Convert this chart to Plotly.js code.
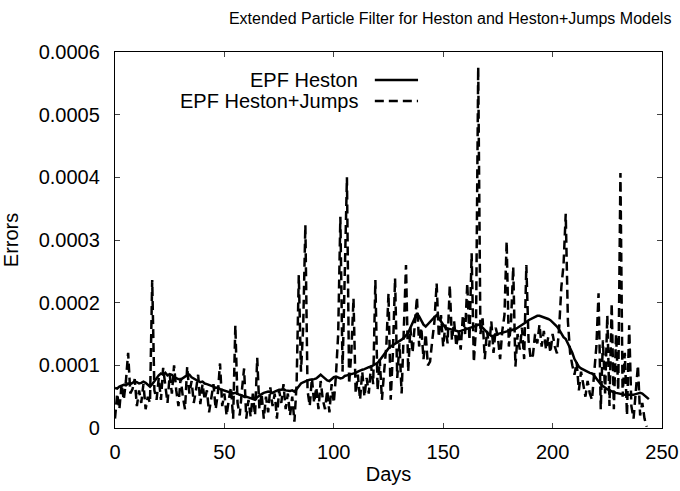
<!DOCTYPE html>
<html>
<head>
<meta charset="utf-8">
<script src="https://cdn.plot.ly/plotly-3.0.1.min.js"></script>
<style>html,body{margin:0;padding:0;background:#fff;}#chart{width:680px;height:491px;}</style>
</head>
<body>
<div id="chart"></div>
<script>
// Values in units of 1e-4
const hestonErr = [
0.64,0.63,0.66,0.67,0.69,0.68,0.71,0.70,0.72,0.74,
0.73,0.71,0.72,0.74,0.72,0.69,0.66,0.70,0.75,0.80,
0.84,0.87,0.85,0.88,0.84,0.86,0.85,0.81,0.79,0.78,
0.77,0.80,0.82,0.84,0.85,0.81,0.79,0.76,0.75,0.73,
0.74,0.71,0.70,0.69,0.67,0.66,0.64,0.65,0.62,0.61,
0.60,0.59,0.58,0.57,0.55,0.56,0.54,0.53,0.52,0.50,
0.50,0.49,0.48,0.46,0.45,0.49,0.52,0.54,0.56,0.57,
0.58,0.57,0.56,0.58,0.60,0.61,0.61,0.62,0.60,0.59,
0.59,0.60,0.58,0.62,0.66,0.71,0.73,0.75,0.76,0.77,
0.77,0.78,0.79,0.82,0.85,0.82,0.79,0.76,0.75,0.78,
0.81,0.82,0.80,0.79,0.80,0.83,0.84,0.85,0.85,0.87,
0.88,0.90,0.92,0.93,0.94,0.96,0.97,0.98,1.00,1.02,
1.04,1.08,1.13,1.18,1.22,1.27,1.30,1.32,1.34,1.36,
1.39,1.41,1.44,1.48,1.52,1.60,1.68,1.77,1.83,1.78,
1.72,1.65,1.62,1.66,1.70,1.74,1.77,1.80,1.75,1.70,
1.64,1.60,1.59,1.58,1.57,1.56,1.55,1.54,1.55,1.56,
1.57,1.58,1.59,1.61,1.62,1.63,1.65,1.64,1.60,1.56,
1.52,1.49,1.47,1.47,1.49,1.50,1.51,1.51,1.52,1.53,
1.54,1.55,1.57,1.58,1.60,1.62,1.64,1.66,1.69,1.72,
1.74,1.76,1.78,1.79,1.79,1.78,1.77,1.76,1.74,1.72,
1.69,1.66,1.62,1.57,1.51,1.45,1.42,1.35,1.28,1.20,
1.10,1.03,0.98,0.95,0.93,0.91,0.90,0.88,0.87,0.84,
0.79,0.74,0.70,0.67,0.64,0.62,0.60,0.58,0.57,0.56,
0.55,0.55,0.54,0.53,0.53,0.53,0.52,0.53,0.54,0.55,
0.56,0.55,0.52,0.49,0.46
];
const jumpsErr = [
0.15,0.55,0.30,0.70,0.45,0.75,1.20,0.55,0.62,0.78,
0.35,0.60,0.40,0.70,0.30,0.50,0.40,2.36,0.60,0.45,
0.80,0.45,0.96,0.65,0.40,0.85,0.55,1.00,0.60,0.35,
0.80,0.50,0.30,0.98,0.55,0.75,0.40,0.60,0.85,0.38,
0.70,0.45,0.60,0.25,0.50,0.70,0.30,0.55,1.03,0.35,
0.55,0.20,0.45,0.65,0.15,1.64,0.40,0.20,0.60,0.95,
0.15,0.45,0.18,0.55,0.20,1.12,0.30,0.55,0.15,0.50,
0.25,0.65,0.35,0.55,0.15,0.60,0.40,0.70,0.30,0.55,
0.20,0.50,0.10,0.70,2.44,0.90,1.60,3.24,0.60,0.35,
0.80,0.40,0.65,0.30,0.75,0.45,0.30,0.60,0.25,0.70,
0.40,0.85,1.50,3.37,0.90,2.40,4.00,0.70,1.20,2.07,
0.55,0.85,0.45,0.90,0.50,0.80,0.55,1.00,0.70,2.36,
0.60,1.10,0.45,0.90,1.30,2.15,0.45,1.20,2.39,0.80,
1.35,0.55,1.50,2.60,0.90,1.60,1.20,1.70,2.09,1.30,
1.60,1.10,1.50,1.00,1.06,1.40,1.70,2.31,1.45,1.80,
1.30,1.65,1.35,2.28,1.40,1.70,1.30,1.55,1.25,1.80,
1.50,2.31,1.40,2.79,1.05,1.60,5.76,1.50,1.75,1.10,
1.55,1.30,1.70,1.20,1.60,1.45,1.10,1.55,1.80,2.98,
1.30,1.70,2.57,0.98,1.50,1.25,1.60,1.10,2.60,1.40,
1.10,1.16,1.50,1.35,1.65,1.30,1.55,1.25,1.45,1.20,
1.50,1.30,1.19,1.60,2.25,2.60,3.42,1.70,1.20,1.00,
0.85,1.05,0.60,0.90,0.70,0.50,0.75,0.55,0.45,0.95,
1.30,2.15,0.30,1.40,0.55,1.80,0.35,1.99,0.30,1.50,
0.60,4.07,0.50,1.20,0.20,1.64,0.35,0.15,0.60,1.00,
0.20,0.40,0.15,0.02
];
const yTickVals = [0, 1, 2, 3, 4, 5, 6];
const yTickText = ['0', '0.0001', '0.0002', '0.0003', '0.0004', '0.0005', '0.0006'];
const xTickVals = [0, 50, 100, 150, 200, 250];
const seriesNames = ['EPF Heston', 'EPF Heston+Jumps'];
const SCALE = 1e-4;

const font = 'Liberation Sans, Arial, Helvetica, sans-serif';

const traces = [
  {x0: 0, dx: 1, y: hestonErr.map(v => v * SCALE), type: 'scatter', mode: 'lines', name: seriesNames[0],
   line: {color: '#000', width: 2.5}},
  {x0: 0, dx: 1, y: jumpsErr.map(v => v * SCALE), type: 'scatter', mode: 'lines', name: seriesNames[1],
   line: {color: '#000', width: 2.5, dash: '9px,5px'}}
];

// legend placement (paper coords)
const legY = [0.9255, 0.8697];
const layout = {
  width: 680, height: 491,
  margin: {l: 115, r: 18, t: 52, b: 63},
  paper_bgcolor: '#fff', plot_bgcolor: '#fff',
  showlegend: false,
  font: {family: font, size: 20, color: '#000'},
  title: {text: 'Extended Particle Filter for Heston and Heston+Jumps Models',
          font: {family: font, size: 16, color: '#000'},
          x: 0.662, xref: 'container', xanchor: 'center',
          y: 0.963, yref: 'container', yanchor: 'middle'},
  xaxis: {range: [0, 250], tickvals: xTickVals, ticks: 'inside', ticklen: 5, tickwidth: 1,
          showline: true, linecolor: '#000', linewidth: 1.2, mirror: 'allticks',
          showgrid: false, zeroline: false, ticklabelstandoff: 6,
          title: {text: 'Days', standoff: 4, font: {family: font, size: 20}}},
  yaxis: {range: [0, 0.0006], tickvals: yTickVals.map(v => v * SCALE), ticktext: yTickText,
          ticks: 'inside', ticklen: 5, tickwidth: 1,
          showline: true, linecolor: '#000', linewidth: 1.2, mirror: 'allticks',
          showgrid: false, zeroline: false, ticklabelstandoff: 10,
          title: {text: 'Errors', standoff: 14, font: {family: font, size: 20}}},
  annotations: seriesNames.map((n, i) => ({
    text: n, xref: 'paper', yref: 'paper', x: 0.448, y: legY[i],
    xanchor: 'right', yanchor: 'middle', showarrow: false,
    font: {family: font, size: 20, color: '#000'}
  })),
  shapes: [
    {type: 'line', xref: 'paper', yref: 'paper', x0: 0.475, x1: 0.554, y0: legY[0], y1: legY[0],
     line: {color: '#000', width: 2.5}},
    {type: 'line', xref: 'paper', yref: 'paper', x0: 0.475, x1: 0.554, y0: legY[1], y1: legY[1],
     line: {color: '#000', width: 2.5, dash: '9px,5px'}}
  ]
};

Plotly.newPlot('chart', traces, layout, {displayModeBar: false, staticPlot: true});
</script>
</body>
</html>
